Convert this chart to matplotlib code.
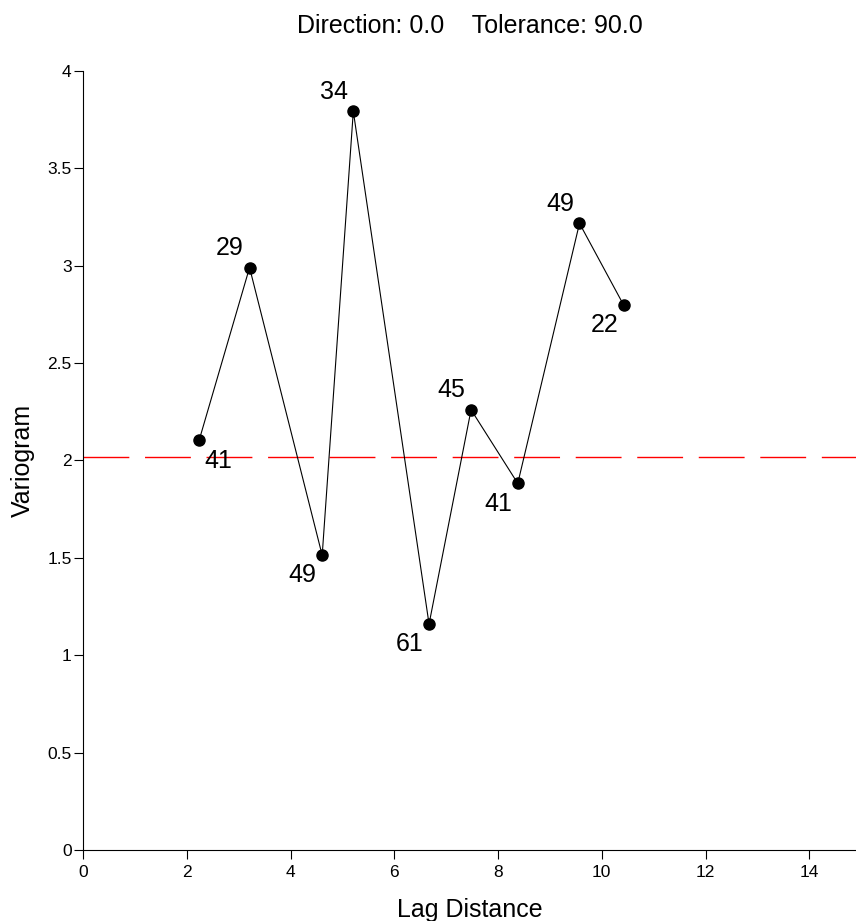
import numpy as np
import matplotlib
matplotlib.use('Agg')
import matplotlib.pyplot as plt

plt.rcParams['font.family'] = ['Liberation Sans', 'DejaVu Sans']

# experimental variogram: lag distance, value and number of pairs
lag = [2.24, 3.21, 4.61, 5.21, 6.67, 7.48, 8.38, 9.57, 10.42]
gamma = [2.105, 2.99, 1.513, 3.792, 1.16, 2.26, 1.882, 3.217, 2.798]
pairs = [41, 29, 49, 34, 61, 45, 41, 49, 22]
# label above (1) or below (-1) the point
label_side = [-1, 1, -1, 1, -1, 1, -1, 1, -1]
sill = 2.02

x_ticks = [0, 2, 4, 6, 8, 10, 12, 14]
y_ticks = [0, 0.5, 1, 1.5, 2, 2.5, 3, 3.5, 4]
y_ticklabels = ['0', '0.5', '1', '1.5', '2', '2.5', '3', '3.5', '4']

fig = plt.figure(figsize=(8.56, 9.21), dpi=100)
ax = fig.add_axes([0.097, 0.0771, 0.903, 0.846])

# sill line
ax.axhline(sill, color='#ff0000', linewidth=1.0, dashes=(33, 11.3))

ax.plot(lag, gamma, color='black', linewidth=0.8, marker='o',
        markersize=8, markerfacecolor='black', markeredgecolor='black')

for x, y, n, side in zip(lag, gamma, pairs, label_side):
    if side > 0:
        off = (-14, 14)
    else:
        off = (-14, -14.5)
    # first point label sits on the right
    if x == lag[0]:
        off = (13.5, -15)
    ax.annotate(str(n), (x, y), xytext=off, textcoords='offset points',
                ha='center', va='center', fontsize=18)

ax.set_xlim(0, 14.9)
ax.set_ylim(0, 4)
ax.set_xticks(x_ticks)
ax.set_yticks(y_ticks)
ax.set_yticklabels(y_ticklabels)

# only left and bottom frame
ax.spines['top'].set_visible(False)
ax.spines['right'].set_visible(False)
ax.spines['left'].set_linewidth(0.8)
ax.spines['bottom'].set_linewidth(0.8)
ax.tick_params(axis='both', which='both', direction='out', length=6.3,
               width=0.8, labelsize=12.5)
ax.tick_params(axis='x', pad=4.5)
ax.tick_params(axis='y', pad=2)

ax.set_xlabel('Lag Distance', fontsize=18, labelpad=13)
ax.set_ylabel('Variogram', fontsize=18, labelpad=9)
ax.set_title('Direction: 0.0    Tolerance: 90.0', fontsize=18, pad=27)

plt.savefig('out.png', dpi=100)
